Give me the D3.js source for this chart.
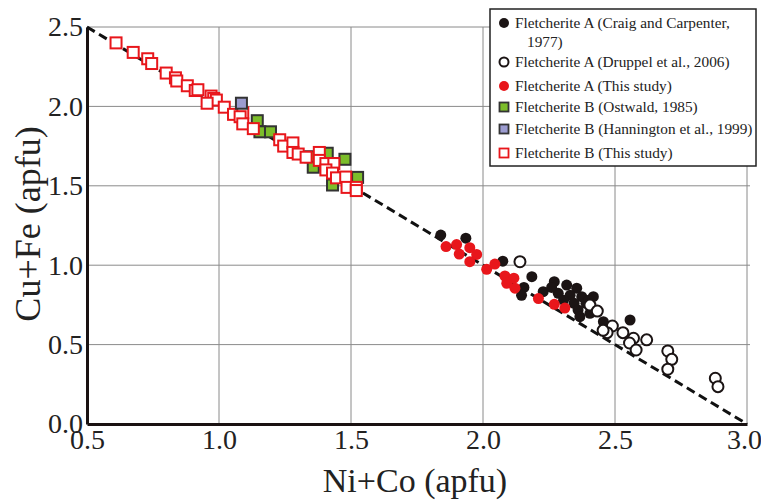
<!DOCTYPE html>
<html><head><meta charset="utf-8">
<script src="https://cdn.jsdelivr.net/npm/d3@7"></script>
<style>body{margin:0;background:#fff}svg{display:block}
text{font-family:"Liberation Serif","Times New Roman",Times,serif}</style>
</head><body>
<svg id="c" width="761" height="503"></svg>
<script>
const xTicks = [0.5,1.0,1.5,2.0,2.5,3.0];
const yTicks = [0.0,0.5,1.0,1.5,2.0,2.5];
const idealLine = [[0.5,2.5],[3.0,0.0]];
const craigA = [[1.84,1.19],[1.935,1.17],[2.075,1.025],[2.185,0.928],[2.155,0.86],[2.146,0.81],[2.228,0.833],[2.27,0.896],[2.317,0.875],[2.355,0.855],[2.285,0.823],[2.33,0.81],[2.305,0.78],[2.374,0.802],[2.418,0.802],[2.345,0.76],[2.39,0.76],[2.36,0.718],[2.367,0.676],[2.405,0.697],[2.456,0.644],[2.46,0.592],[2.557,0.655],[2.26,0.86],[2.40,0.78]];
const druppelA = [[2.14,1.022],[2.405,0.749],[2.433,0.711],[2.49,0.617],[2.47,0.575],[2.53,0.575],[2.455,0.59],[2.57,0.54],[2.555,0.51],[2.62,0.53],[2.58,0.466],[2.70,0.46],[2.715,0.407],[2.70,0.345],[2.88,0.288],[2.89,0.235]];
const studyA = [[1.86,1.117],[1.90,1.13],[1.95,1.11],[1.91,1.07],[1.976,1.068],[1.95,1.022],[2.014,0.974],[2.045,1.007],[2.083,0.932],[2.117,0.918],[2.09,0.886],[2.121,0.855],[2.21,0.79],[2.27,0.754],[2.31,0.73]];
const ostwaldB = [[1.145,1.91],[1.155,1.84],[1.195,1.84],[1.347,1.683],[1.41,1.705],[1.357,1.617],[1.40,1.64],[1.433,1.64],[1.477,1.667],[1.525,1.553],[1.43,1.505]];
const hanningtonB = [[1.085,2.02]];
const studyB = [[0.61,2.40],[0.675,2.34],[0.73,2.30],[0.745,2.27],[0.80,2.21],[0.835,2.18],[0.84,2.16],[0.88,2.13],[0.91,2.10],[0.92,2.105],[0.97,2.065],[0.98,2.05],[0.99,2.04],[0.955,2.02],[1.02,1.995],[1.055,1.95],[1.09,1.96],[1.08,1.935],[1.09,1.89],[1.13,1.86],[1.23,1.79],[1.245,1.75],[1.28,1.77],[1.28,1.71],[1.30,1.70],[1.33,1.68],[1.38,1.71],[1.38,1.66],[1.405,1.64],[1.435,1.64],[1.405,1.60],[1.43,1.58],[1.445,1.55],[1.48,1.555],[1.485,1.49],[1.52,1.49],[1.52,1.47]];
const legendLabels = [["Fletcherite A (Craig and Carpenter,","1977)"],["Fletcherite A (Druppel et al., 2006)"],["Fletcherite A (This study)"],["Fletcherite B (Ostwald, 1985)"],["Fletcherite B (Hannington et al., 1999)"],["Fletcherite B (This study)"]];

const RED="#e8161b", GREEN="#7cbd2a", LAV="#9c9cd0", BLK="#1b1414";
const svg = d3.select("#c");
const x = d3.scaleLinear().domain([0.5,3.0]).range([87,747]);
const y = d3.scaleLinear().domain([0,2.5]).range([424,27]);
const serif = '"Liberation Serif","Times New Roman",Times,serif';

// grid
svg.append("g").selectAll("line").data(xTicks.slice(1)).join("line")
  .attr("x1",d=>x(d)).attr("x2",d=>x(d)).attr("y1",y(2.5)).attr("y2",y(0))
  .attr("stroke","#8a8a8a").attr("stroke-width",1);
svg.append("g").selectAll("line").data(yTicks.slice(1)).join("line")
  .attr("x1",x(0.5)).attr("x2",x(3.0)+3).attr("y1",d=>y(d)).attr("y2",d=>y(d))
  .attr("stroke","#8a8a8a").attr("stroke-width",1);

// axes
const xa = svg.append("g").attr("transform",`translate(0,${y(0)})`)
  .call(d3.axisBottom(x).tickValues(xTicks).tickFormat(d3.format(".1f")).tickSize(0).tickPadding(5));
const ya = svg.append("g").attr("transform",`translate(${x(0.5)},0)`)
  .call(d3.axisLeft(y).tickValues(yTicks).tickFormat(d3.format(".1f")).tickSize(0).tickPadding(4));
[xa,ya].forEach(a=>{
  a.attr("font-family",serif);
  a.select(".domain").attr("stroke","#1a1212").attr("stroke-width",3);
  a.selectAll("text").style("font-family",serif).attr("font-size",28).attr("fill","#222");
});
xa.selectAll("text").attr("dy","0.72em").attr("dx",d=>d===3.0?-3:0);

// dashed line
svg.append("path").datum(idealLine)
  .attr("d",d3.line().x(d=>x(d[0])).y(d=>y(d[1])))
  .attr("stroke","#111").attr("stroke-width",3).attr("stroke-dasharray","9,5").attr("fill","none");

const S=11;
function squares(data,fill,stroke,sw){
  svg.append("g").selectAll("rect").data(data).join("rect")
    .attr("x",d=>x(d[0])-S/2).attr("y",d=>y(d[1])-S/2).attr("width",S).attr("height",S)
    .attr("fill",fill).attr("stroke",stroke).attr("stroke-width",sw);
}
function circles(data,fill,stroke,sw){
  svg.append("g").selectAll("circle").data(data).join("circle")
    .attr("cx",d=>x(d[0])).attr("cy",d=>y(d[1])).attr("r",5.5)
    .attr("fill",fill).attr("stroke",stroke).attr("stroke-width",sw);
}
squares(ostwaldB,GREEN,"#333",2);
squares(studyB,"#fff",RED,2);
squares(hanningtonB,LAV,"#333",2);
circles(craigA,BLK,"none",0);
circles(druppelA,"#fff",BLK,2);
circles(studyA,RED,"none",0);

// titles
svg.append("text").attr("x",415).attr("y",492).attr("text-anchor","middle")
  .style("font-family",serif).attr("font-size",34).attr("fill","#222").text("Ni+Co (apfu)");
svg.append("text").attr("transform","translate(40,224) rotate(-90)").attr("text-anchor","middle")
  .style("font-family",serif).attr("font-size",36).attr("fill","#222").text("Cu+Fe (apfu)");

// legend
const lg = svg.append("g");
lg.append("rect").attr("x",490).attr("y",9).attr("width",266).attr("height",157)
  .attr("fill","#fff").attr("stroke","#222").attr("stroke-width",1.5);
const rows = [23,62,86,107,129,153];
const mk = [
  g=>g.append("circle").attr("r",5).attr("fill",BLK),
  g=>g.append("circle").attr("r",4.5).attr("fill","#fff").attr("stroke",BLK).attr("stroke-width",2),
  g=>g.append("circle").attr("r",5).attr("fill",RED),
  g=>g.append("rect").attr("x",-4.5).attr("y",-4.5).attr("width",9).attr("height",9).attr("fill",GREEN).attr("stroke","#333").attr("stroke-width",1.8),
  g=>g.append("rect").attr("x",-4.5).attr("y",-4.5).attr("width",9).attr("height",9).attr("fill",LAV).attr("stroke","#333").attr("stroke-width",1.8),
  g=>g.append("rect").attr("x",-4.5).attr("y",-4.5).attr("width",9).attr("height",9).attr("fill","#fff").attr("stroke",RED).attr("stroke-width",1.8)
];
legendLabels.forEach((lab,i)=>{
  const g = lg.append("g").attr("transform",`translate(504,${rows[i]})`);
  mk[i](g);
  lab.forEach((t,j)=>{
    lg.append("text").attr("x",j===0?515:527).attr("y",rows[i]+j*19).attr("dy","0.35em")
      .style("font-family",serif).attr("font-size",15.3).attr("fill","#222").text(t);
  });
});
</script>
</body></html>
